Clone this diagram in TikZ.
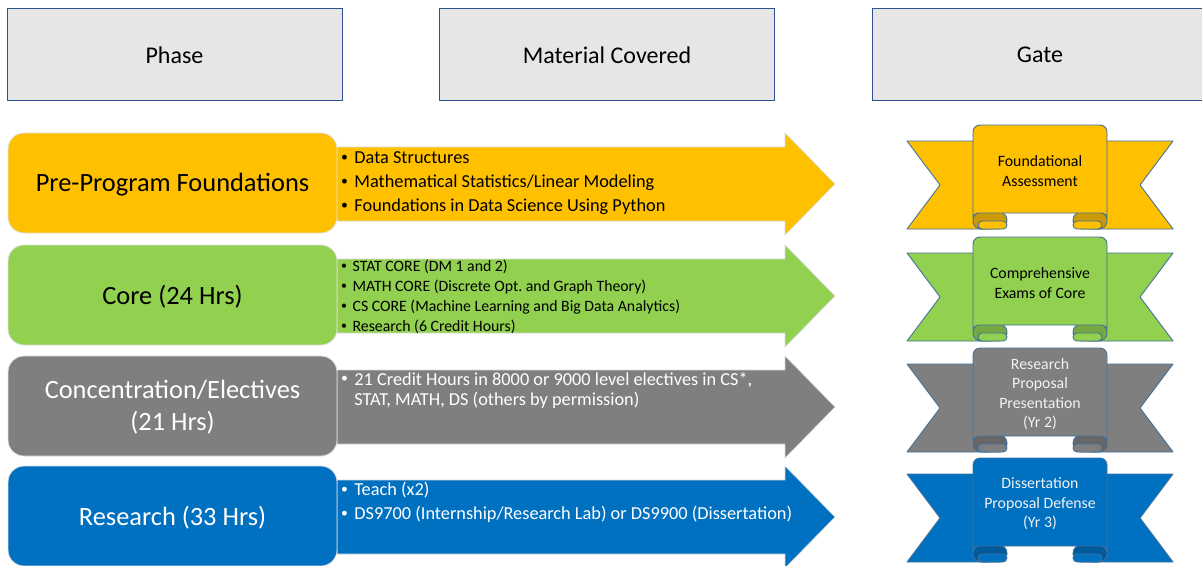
\documentclass[tikz,border=0pt]{standalone}
\usepackage{fontspec}
\setmainfont{Carlito}
\definecolor{cgold}{HTML}{FFC000}
\definecolor{cgoldd}{HTML}{CC9A06}
\definecolor{cgreen}{HTML}{92D050}
\definecolor{cgreend}{HTML}{75A742}
\definecolor{cgray}{HTML}{7F7F7F}
\definecolor{cgrayd}{HTML}{666666}
\definecolor{cblue}{HTML}{0070C0}
\definecolor{cblued}{HTML}{005A9A}
\definecolor{chdr}{HTML}{E7E6E6}
\definecolor{chdrline}{HTML}{2F528F}
\definecolor{crib}{HTML}{41719C}
\definecolor{clighttext}{HTML}{F2F2F2}
\newcommand\bul{\raisebox{0.12em}{\scalebox{0.75}{\textbullet}}\hspace{0.35em}}
\newcommand\shiftdown[2]{\raisebox{-#1}[\height][\depth]{#2}}
\tikzset{
  hdr/.style={draw=chdrline, line width=0.8pt, fill=chdr, minimum width=335pt, minimum height=92pt,
    inner sep=0pt, font=\fontsize{24}{28}\selectfont},
  phasebox/.style={draw=black!12, line width=0.8pt, rounded corners=16pt, minimum width=329pt,
    minimum height=100pt, inner sep=0pt, align=center, font=\fontsize{26.4}{32}\selectfont},
  matarrow/.style={draw=white!85!black, line width=0.6pt},
  mat/.style={anchor=west, inner sep=0pt, align=left},
  rib/.style={draw=crib, line width=0.9pt, line join=round},
  gtext/.style={inner sep=0pt, align=center, font=\fontsize{15.8}{19.5}\selectfont}
}
% #1 top y, #2 colour
\newcommand\drawmatarrow[2]{%
  \draw[matarrow, fill=#2] (337,#1+14) -- (785,#1+14) -- (785,#1) -- (835,#1+51)
    -- (785,#1+102) -- (785,#1+88) -- (337,#1+88) -- cycle;}
% #1 top y, #2 main, #3 dark, #4 name, #5 text, #6 text colour
\newcommand\drawgate[6]{%
  \draw[rib, fill=#2] (907,#1+8) -- (990,#1+8) -- (990,#1+96) -- (907,#1+96) -- (940,#1+52) -- cycle;
  \draw[rib, fill=#2] (1173,#1+8) -- (1090,#1+8) -- (1090,#1+96) -- (1173,#1+96) -- (1140,#1+52) -- cycle;
  \draw[rib, fill=#3, rounded corners=8pt] (973,#1+79) rectangle (1007,#1+96);
  \draw[rib, fill=#2, rounded corners=4pt] (978,#1+88) rectangle (1007,#1+96);
  \draw[rib, fill=#3, rounded corners=8pt] (1073,#1+79) rectangle (1107,#1+96);
  \draw[rib, fill=#2, rounded corners=4pt] (1073,#1+88) rectangle (1102,#1+96);
  \draw[rib, fill=#2] (973,#1+83) [rounded corners=7pt] -- (973,#1-8) -- (1107,#1-8) [sharp corners] -- (1107,#1+83)
    [rounded corners=5pt] -- (1107,#1+80) -- (973,#1+80) [sharp corners] -- cycle;
  \node[gtext, text=#6] (#4) at (1040,#1+38) {#5};}
\begin{document}
\begin{tikzpicture}[x=1pt,y=-1pt]
\useasboundingbox (0,0) rectangle (1202,565);
% headers
\node[hdr] (hphase) at (174.5,54) {\shiftdown{1pt}{Phase}};
\node[hdr] (hmat) at (607,54) {\shiftdown{1pt}{Material Covered}};
\node[hdr] (hgate) at (1040,54) {\shiftdown{1pt}{Gate}};
% arrows
\drawmatarrow{133}{cgold}
\drawmatarrow{245}{cgreen}
\drawmatarrow{356}{cgray}
\drawmatarrow{466}{cblue}
% phase boxes
\node[phasebox, fill=cgold] (p1) at (172.5,183) {\shiftdown{2pt}{Pre-Program Foundations}};
\node[phasebox, fill=cgreen] (p2) at (172.5,295) {\shiftdown{2pt}{Core (24 Hrs)}};
\node[phasebox, fill=cgray, text=white] (p3) at (172.5,406)
  {\shiftdown{2pt}{\begin{tabular}{@{}c@{}}Concentration/Electives\\(21 Hrs)\end{tabular}}};
\node[phasebox, fill=cblue, text=white] (p4) at (172.5,516) {\shiftdown{2pt}{Research (33 Hrs)}};
% material text
\node[mat, font=\fontsize{18.3}{24}\selectfont] (m1) at (341,183)
  {\bul Data Structures\\\bul Mathematical Statistics/Linear Modeling\\\bul Foundations in Data Science Using Python};
\node[mat, font=\fontsize{15.8}{20}\selectfont] (m2) at (341,297)
  {\bul STAT CORE (DM 1 and 2)\\\bul MATH CORE (Discrete Opt.\ and Graph Theory)\\\bul CS CORE (Machine Learning and Big Data Analytics)\\\bul Research (6 Credit Hours)};
\node[mat, font=\fontsize{18.3}{20}\selectfont, text=white] (m3) at (341,390)
  {\bul 21 Credit Hours in 8000 or 9000 level electives in CS*,\\\phantom{\bul}STAT, MATH, DS (others by permission)};
\node[mat, font=\fontsize{18.3}{24}\selectfont, text=white] (m4) at (341,502)
  {\bul Teach (x2)\\\bul DS9700 (Internship/Research Lab) or DS9900 (Dissertation)};
% gates
\drawgate{133}{cgold}{cgoldd}{g1}{Foundational\\Assessment}{black}
\drawgate{245}{cgreen}{cgreend}{g2}{Comprehensive\\Exams of Core}{black}
\drawgate{356}{cgray}{cgrayd}{g3}{Research\\Proposal\\Presentation\\(Yr 2)}{clighttext}
\drawgate{466}{cblue}{cblued}{g4}{Dissertation\\Proposal Defense\\(Yr 3)}{clighttext}
\end{tikzpicture}
\end{document}
